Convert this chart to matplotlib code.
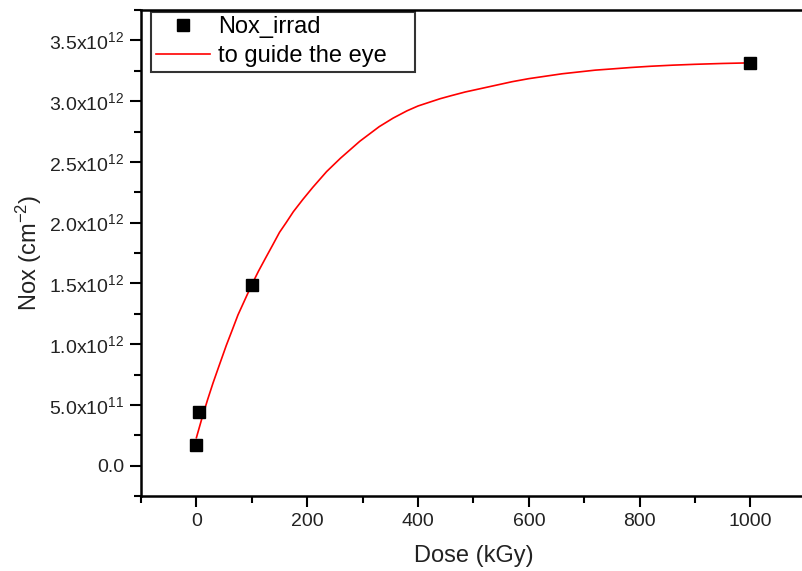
import matplotlib
matplotlib.use('Agg')
import matplotlib.pyplot as plt
from matplotlib.ticker import MultipleLocator

# ==========================================
# data
# ==========================================
dose = [0, 5, 100, 1000]                       # kGy
nox = [1.7e11, 4.4e11, 1.49e12, 3.315e12]     # cm^-2

# guide-the-eye curve
guide_x = [0, 10, 20, 30, 40, 54, 65, 75, 88, 100, 112, 125, 137, 150, 162,
           175, 192, 210, 235, 260, 295, 330, 355, 380, 400, 420, 440, 460,
           485, 510, 540, 570, 600, 630, 660, 690, 720, 750, 785, 820, 860,
           900, 950, 1000]
guide_y = [0.23e12, 0.39e12, 0.54e12, 0.68e12, 0.81e12, 0.99e12, 1.12e12,
           1.24e12, 1.37e12, 1.49e12, 1.60e12, 1.71e12, 1.81e12, 1.92e12,
           2.00e12, 2.09e12, 2.19e12, 2.29e12, 2.42e12, 2.53e12, 2.67e12,
           2.79e12, 2.86e12, 2.92e12, 2.96e12, 2.99e12, 3.02e12, 3.045e12,
           3.075e12, 3.10e12, 3.13e12, 3.16e12, 3.185e12, 3.205e12, 3.225e12,
           3.24e12, 3.255e12, 3.265e12, 3.277e12, 3.287e12, 3.296e12,
           3.303e12, 3.31e12, 3.315e12]

x_ticks = [0, 200, 400, 600, 800, 1000]
y_ticks = [0, 0.5e12, 1.0e12, 1.5e12, 2.0e12, 2.5e12, 3.0e12, 3.5e12]
y_tick_labels = ['0.0', '5.0x10$^{11}$', '1.0x10$^{12}$', '1.5x10$^{12}$',
                 '2.0x10$^{12}$', '2.5x10$^{12}$', '3.0x10$^{12}$',
                 '3.5x10$^{12}$']

plt.rcParams['font.family'] = ['Liberation Sans', 'DejaVu Sans']
plt.rcParams['mathtext.fontset'] = 'custom'
plt.rcParams['mathtext.rm'] = 'Liberation Sans'
plt.rcParams['mathtext.it'] = 'Liberation Sans'
plt.rcParams['mathtext.default'] = 'rm'

fig = plt.figure(figsize=(8.02, 5.71), dpi=100)
ax = fig.add_axes([0.1758, 0.1313, 0.829, 0.8512])

ax.plot(dose, nox, 's', color='black', markersize=8.5, label='Nox_irrad', zorder=3)
ax.plot(guide_x, guide_y, '-', color='red', linewidth=1.2, label='to guide the eye', zorder=2)

ax.set_xlim(-100, 1100)
ax.set_ylim(-2.5e11, 3.75e12)

ax.set_xticks(x_ticks)
ax.xaxis.set_minor_locator(MultipleLocator(100))
ax.set_yticks(y_ticks)
ax.set_yticklabels(y_tick_labels)
ax.yaxis.set_minor_locator(MultipleLocator(2.5e11))

ax.tick_params(which='major', direction='out', length=8, width=1.5, labelsize=14,
               labelcolor='#222222', pad=4)
ax.tick_params(which='minor', direction='out', length=5, width=1.5)
for s in ax.spines.values():
    s.set_linewidth(1.8)

ax.set_xlabel('Dose (kGy)', fontsize=17, color='#222222', labelpad=11)
ax.set_ylabel('Nox (cm$^{-2}$)', fontsize=17, color='#222222', labelpad=4)

# legend box stretched to the reference width (text left, space on the right)
leg = ax.legend(loc='upper left', fontsize=17, frameon=True, fancybox=False,
                mode='expand', bbox_to_anchor=(0.015, 0.87, 0.397, 0.1265),
                borderaxespad=0, borderpad=0.2, handlelength=2.3,
                handletextpad=0.35, labelspacing=0.3)
leg.get_frame().set_edgecolor('black')
leg.get_frame().set_linewidth(1.5)

plt.savefig('out.png', dpi=100)
